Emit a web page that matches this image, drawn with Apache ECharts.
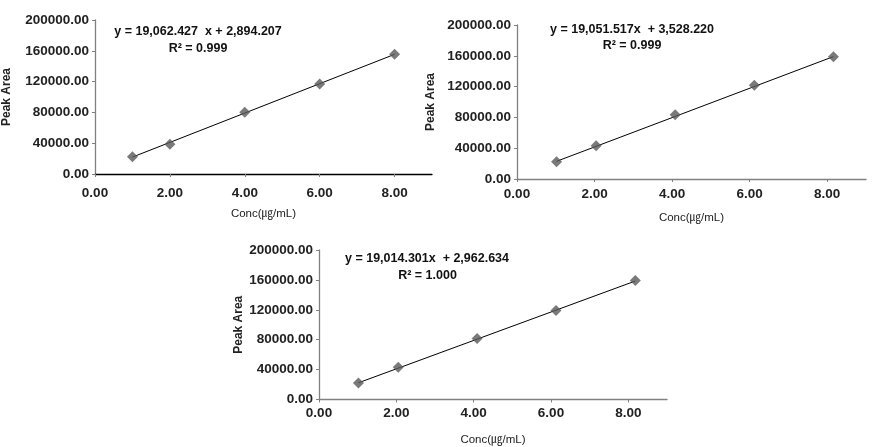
<!DOCTYPE html>
<html><head><meta charset="utf-8">
<script src="https://cdn.jsdelivr.net/npm/echarts@6/dist/echarts.min.js"></script>
<style>html,body{margin:0;padding:0;background:#fff}#c{width:890px;height:447px}</style>
</head><body><div id="c"></div>
<script>
// Data
const xTicks = [0, 2, 4, 6, 8];
const c1X = [1, 2, 4, 6, 8];
const c1Y = [22300, 38500, 80100, 116800, 155500];
const c2X = [1.02, 2.04, 4.08, 6.12, 8.16];
const c2Y = [22500, 43200, 83500, 121600, 158900];
const c3X = [1.02, 2.05, 4.09, 6.13, 8.18];
const c3Y = [22100, 43300, 81700, 119200, 159300];
const t1X = [1, 8];       const t1Y = [21957, 155394];
const t2X = [1.02, 8.16]; const t2Y = [22961, 158988];
const t3X = [1.02, 8.18]; const t3Y = [22357, 158500];
const eqs = ['y = 19,062.427  x + 2,894.207', 'y = 19,051.517x  + 3,528.220', 'y = 19,014.301x  + 2,962.634'];
const r2s = ['R² = 0.999', 'R² = 0.999', 'R² = 1.000'];
const yName = 'Peak Area';
const xName = 'Conc(㎍/mL)';

const FONT = '"Liberation Sans", Arial, "Noto Sans CJK KR", sans-serif';
const grids = [
  {left: 92, top: 20, width: 340, height: 154},
  {left: 517, top: 25, width: 349, height: 154},
  {left: 319, top: 250, width: 348, height: 151}
];
const yGaps = [82, 80, 74];
const xGaps = [34, 33, 35];
const xLabMargins = [13, 9, 7];
const xAxisColors = ['#000', '#808080', '#808080'];
const eqPos = [[198, 32], [632, 30], [427, 259]];
const r2Pos = [[198, 49], [632, 46], [427.5, 276]];

const xAxis = [], yAxis = [], series = [], graphic = [];
const pts = [[c1X, c1Y], [c2X, c2Y], [c3X, c3Y]];
const trs = [[t1X, t1Y], [t2X, t2Y], [t3X, t3Y]];
for (let i = 0; i < 3; i++) {
  xAxis.push({
    type: 'value', gridIndex: i, min: 0, max: 9, interval: 2,
    name: xName, nameLocation: 'middle', nameGap: xGaps[i], nameMoveOverlap: false,
    nameTextStyle: {fontFamily: FONT, fontSize: 11.5, color: '#222'},
    axisLine: {show: true, lineStyle: {color: xAxisColors[i], width: 1.3}},
    axisTick: {show: true, inside: false, length: 3, customValues: xTicks, lineStyle: {color: '#808080'}},
    axisLabel: {customValues: xTicks, margin: xLabMargins[i], fontFamily: FONT, fontSize: 13.5, fontWeight: 'bold', color: '#222',
      formatter: v => v.toFixed(2)},
    splitLine: {show: false}
  });
  yAxis.push({
    type: 'value', gridIndex: i, min: 0, max: 200000, interval: 40000,
    name: yName, nameLocation: 'middle', nameGap: yGaps[i], nameRotate: 90, nameMoveOverlap: false,
    nameTextStyle: {fontFamily: FONT, fontSize: 12, fontWeight: 'bold', color: '#222'},
    axisLine: {show: true, lineStyle: {color: '#808080', width: 1.3}},
    axisTick: {show: true, inside: false, length: 3, lineStyle: {color: '#808080'}},
    axisLabel: {margin: 6, fontFamily: FONT, fontSize: 13.5, fontWeight: 'bold', color: '#222',
      formatter: v => v.toFixed(2)},
    splitLine: {show: false}
  });
  const [tx, ty] = trs[i];
  series.push({
    type: 'line', xAxisIndex: i, yAxisIndex: i, data: tx.map((x, k) => [x, ty[k]]),
    symbol: 'none', lineStyle: {color: '#000', width: 1}, silent: true, z: 2
  });
  const [px, py] = pts[i];
  series.push({
    type: 'scatter', xAxisIndex: i, yAxisIndex: i, data: px.map((x, k) => [x, py[k]]),
    symbol: 'diamond', symbolSize: 11, itemStyle: {color: '#595959'}, z: 3
  });
  graphic.push({type: 'text', x: eqPos[i][0], y: eqPos[i][1], style: {text: eqs[i],
    font: 'bold 12.5px ' + FONT, fill: '#111', align: 'center', verticalAlign: 'middle'}});
  graphic.push({type: 'text', x: r2Pos[i][0], y: r2Pos[i][1], style: {text: r2s[i],
    font: 'bold 12.5px ' + FONT, fill: '#111', align: 'center', verticalAlign: 'middle'}});
}

const chart = echarts.init(document.getElementById('c'), null, {renderer: 'canvas'});
chart.setOption({animation: false, grid: grids, xAxis, yAxis, series, graphic});
</script></body></html>
